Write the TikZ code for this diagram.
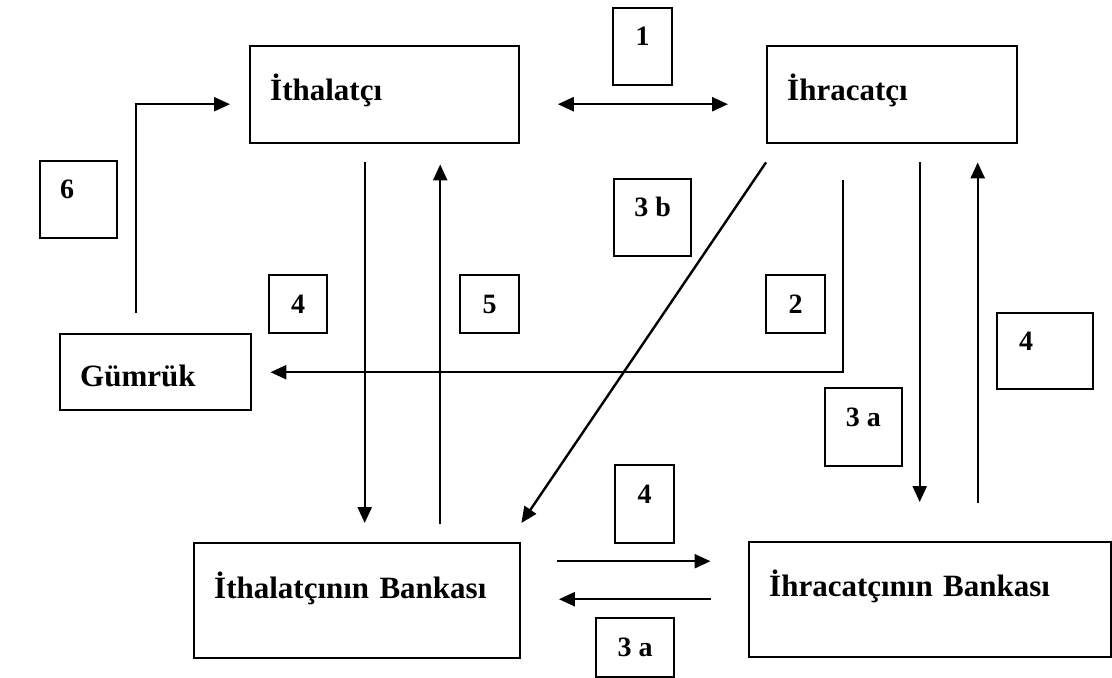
\documentclass[tikz,border=0pt]{standalone}
\usepackage{fontspec}
\setmainfont{Liberation Serif}
\usetikzlibrary{arrows.meta}

\begin{document}
\begin{tikzpicture}[x=0.5pt,y=-0.5pt,>={Triangle[length=8pt,width=7pt]},
  party/.style={draw,line width=1.2pt,anchor=north west,align=left,inner xsep=10pt,inner ysep=0pt,text height=16pt,font=\fontsize{15.5}{18}\selectfont\bfseries},
  num/.style={draw,line width=1.2pt,anchor=north west,inner sep=0pt,text height=10pt,font=\fontsize{14}{16}\selectfont\bfseries},
  flow/.style={line width=1.2pt,->}]
\useasboundingbox (0,0) rectangle (1112,677);

% parties
\node [party,text width=114.5pt,minimum height=48.5pt,text depth=10.5pt] (ith) at (249,45) {İthalatçı};
\node [party,text width=105pt,minimum height=48.5pt,text depth=10.5pt] (ihr) at (766,45) {İhracatçı};
\node [party,text width=75.5pt,minimum height=38pt,text depth=2pt] (gum) at (59,333) {Gümrük};
\node [party,text width=143pt,minimum height=57.5pt,text depth=18.5pt] (ithb) at (193,542) {İthalatçının Bankası};
\node [party,text width=161pt,minimum height=57.5pt,text depth=19pt] (ihrb) at (748,541) {İhracatçının Bankası};

% step numbers
\node [num,minimum width=29.5pt,minimum height=38.5pt,text depth=11pt] (n1) at (612,7) {1};
\node [num,minimum width=38.5pt,minimum height=38.5pt,text depth=11pt,text width=18.5pt,inner xsep=10pt,align=left] (n6) at (39,160) {6};
\node [num,minimum width=29pt,minimum height=29pt,text depth=1pt] (n4a) at (268,274) {4};
\node [num,minimum width=29.5pt,minimum height=29pt,text depth=1pt] (n5) at (459,274) {5};
\node [num,minimum width=38.5pt,minimum height=38.5pt,text depth=11pt] (n3b) at (613,178) {3 b};
\node [num,minimum width=29.5pt,minimum height=29pt,text depth=1pt] (n2) at (765,274) {2};
\node [num,minimum width=48pt,minimum height=38pt,text depth=11pt,text width=26pt,inner xsep=11pt,align=left] (n4b) at (996,312) {4};
\node [num,minimum width=38.75pt,minimum height=39pt,text depth=11pt] (n3a) at (823.5,387) {3 a};
\node [num,minimum width=29.5pt,minimum height=39pt,text depth=11pt] (n4c) at (614,464) {4};
\node [num,minimum width=39pt,minimum height=29.5pt,text depth=1pt] (n3c) at (595,617) {3 a};

% flows
\draw [flow,<->,shorten <=18.7pt,shorten >=19pt] ([yshift=-4.75pt]ith.east) -- ([yshift=-4.75pt]ihr.west);
\draw [flow,shorten >=9.5pt] ([xshift=-9.75pt,yshift=10pt]gum.north) |- ([yshift=-4.75pt]ith.west);
\draw [flow,shorten <=9pt,shorten >=9.5pt] ([xshift=-10pt]ith.south) -- ([xshift=-10pt]ith.south |- ithb.north);
\draw [flow,shorten <=9pt,shorten >=10pt] ([xshift=27.75pt]ith.south |- ithb.north) -- ([xshift=27.75pt]ith.south);
\draw [flow] ([yshift=-9pt]ihr.south west) -- ([yshift=9.5pt]ithb.north east);
\draw [flow,shorten >=9pt] ([xshift=-24.5pt,yshift=-18pt]ihr.south) |- (gum.east);
\draw [flow,shorten <=9pt,shorten >=19.5pt] ([xshift=13.75pt]ihr.south) -- ([xshift=13.75pt]ihr.south |- ihrb.north);
\draw [flow,shorten <=19pt,shorten >=9pt] ([xshift=42.75pt]ihr.south |- ihrb.north) -- ([xshift=42.75pt]ihr.south);
\draw [flow,shorten <=18pt,shorten >=18.75pt] ([yshift=19.75pt]ithb.east) -- ([yshift=19.75pt]ithb.east -| ihrb.west);
\draw [flow,shorten <=18.5pt,shorten >=18.75pt] ([yshift=0.75pt]ithb.east -| ihrb.west) -- ([yshift=0.75pt]ithb.east);

\end{tikzpicture}
\end{document}
